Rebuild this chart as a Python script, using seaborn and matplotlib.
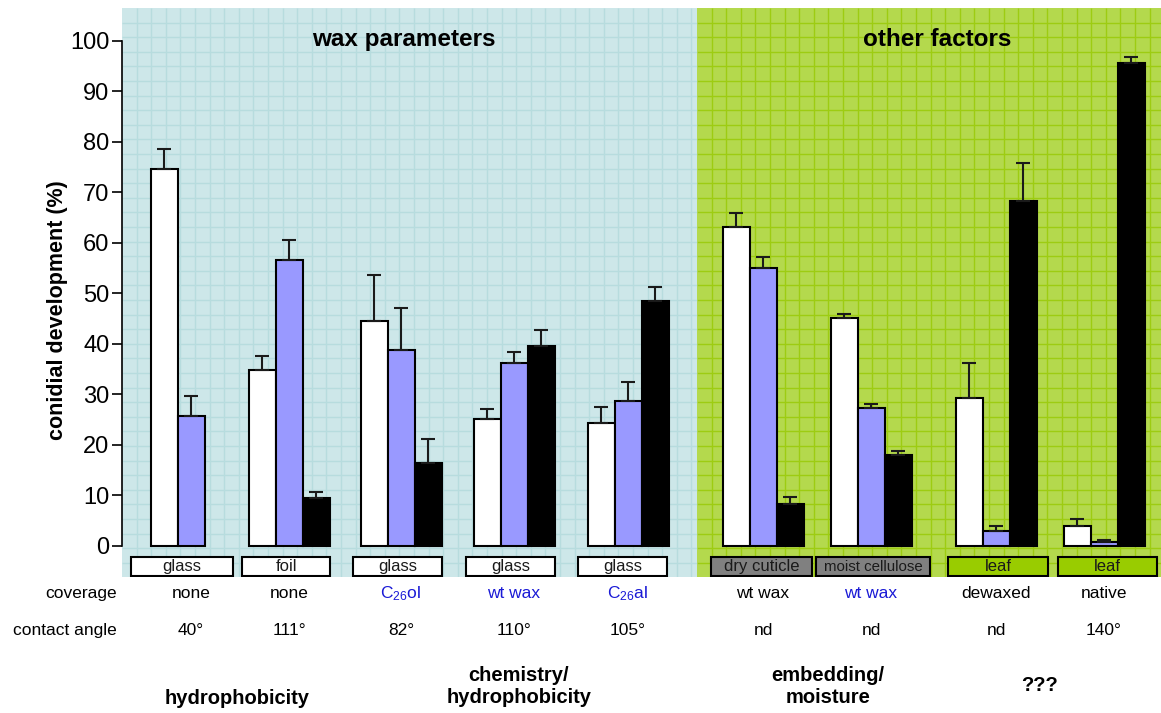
import numpy as np
import pandas as pd
import matplotlib
matplotlib.use("Agg")
import matplotlib.pyplot as plt
from matplotlib.patches import Rectangle
import seaborn as sns

# ---------------- data ----------------
series = ["series A", "series B", "series C"]
substrates = ["glass", "foil", "glass", "glass", "glass",
              "dry cuticle", "moist cellulose", "leaf", "leaf"]
coverage = ["none", "none", "C$_{26}$ol", "wt wax", "C$_{26}$al",
            "wt wax", "wt wax", "dewaxed", "native"]
coverage_wax_applied = [False, False, True, True, True, False, True, False, False]
contact_angle = ["40°", "111°", "82°", "110°", "105°", "nd", "nd", "nd", "140°"]

mean_a = [74.6, 34.9, 44.6, 25.1, 24.4, 63.1, 45.1, 29.3, 4.0]
err_a = [4.0, 2.7, 9.0, 2.0, 3.2, 2.8, 0.9, 6.9, 1.3]
mean_b = [25.8, 56.7, 38.9, 36.3, 28.7, 55.0, 27.3, 3.0, 0.85]
err_b = [3.9, 3.8, 8.3, 2.1, 3.8, 2.3, 0.8, 1.0, 0.25]
mean_c = [np.nan, 9.6, 16.4, 39.7, 48.6, 8.3, 18.0, 68.4, 95.7]
err_c = [np.nan, 1.0, 4.7, 3.1, 2.6, 1.4, 0.8, 7.4, 1.2]

panel_titles = ["wax parameters", "other factors"]
factor_labels = ["hydrophobicity", "chemistry/\nhydrophobicity",
                 "embedding/\nmoisture", "???"]

# ---------------- layout (x in pixel-like units) ----------------
group_x = [191, 289, 401, 514, 628, 763, 871, 996, 1104]
box_edges = [(131, 233), (242, 330), (353, 442), (466, 555), (578, 667),
             (711, 812), (816, 930), (948, 1048), (1058, 1157)]
box_fill = ["#ffffff"] * 5 + ["#808080"] * 2 + ["#99cc00"] * 2
box_fontsize = [12, 12, 12, 12, 12, 12, 10.8, 12, 12]
factor_x = [237, 519, 828, 1040]
factor_y = [-30.1, -27.8, -27.8, -27.7]
title_x = [404, 937]
panel_split = 697
x_left, x_right = 122, 1161
px_per_unit = 5.05
y_bottom, y_top = -6.14, 106.53

bar_colors = ["#ffffff", "#9999ff", "#000000"]

sns.set_theme(style="white")
plt.rcParams["font.family"] = ["Liberation Sans", "DejaVu Sans"]
plt.rcParams["mathtext.default"] = "regular"
plt.rcParams["text.color"] = "black"
plt.rcParams["ytick.color"] = "black"
plt.rcParams["ytick.labelcolor"] = "black"

rows = []
means = [mean_a, mean_b, mean_c]
errs = [err_a, err_b, err_c]
for s, m_list, e_list in zip(series, means, errs):
    for gx, m, e in zip(group_x, m_list, e_list):
        if not np.isnan(m):
            rows.append({"x": gx, "value": m, "err": e, "series": s})
df = pd.DataFrame(rows)

fig = plt.figure(figsize=(11.61, 7.13), dpi=100)
ax = fig.add_axes([x_left / 1161, 136 / 713, (x_right - x_left) / 1161, 569 / 713])

# panel backgrounds with a fine grid
panels = [(x_left, panel_split, "#cde7e9", "#b7dcde"),
          (panel_split, x_right, "#b4d94d", "#9dcc12")]
cell_x = 14.6
cell_y = 14.6 / px_per_unit
for x0, x1, face, line in panels:
    ax.axvspan(x0, x1, ymin=0, ymax=1, color=face, lw=0, zorder=0.1)
    xs = np.arange(x0 + cell_x, x1, cell_x)
    ax.vlines(xs, y_bottom, y_top, colors=line, lw=1.0, zorder=0.3)
    ys = np.arange(y_top - cell_y, y_bottom, -cell_y)
    ax.hlines(ys, x0, x1, colors=line, lw=1.0, zorder=0.3)

sns.barplot(data=df, x="x", y="value", hue="series", hue_order=series,
            palette=bar_colors, saturation=1, native_scale=True,
            width=81 / 98, errorbar=None, edgecolor="black", linewidth=1.5,
            legend=False, ax=ax, zorder=2)

# upper error bars
for s, cont in zip(series, ax.containers):
    sub = df[df["series"] == s].sort_values("x")
    for bar, e in zip(cont, sub["err"]):
        xc = bar.get_x() + bar.get_width() / 2
        h = bar.get_height()
        ax.errorbar([xc], [h], yerr=[[0], [e]], fmt="none", ecolor="#1a1a1a",
                    elinewidth=1.5, capsize=4.7, capthick=1.5, zorder=3)

# substrate label boxes
b_lo, b_hi = (546 - 576) / px_per_unit, (546 - 557) / px_per_unit
for (l, r), fc, txt, fs in zip(box_edges, box_fill, substrates, box_fontsize):
    ax.add_patch(Rectangle((l, b_lo), r - l, b_hi - b_lo, facecolor=fc,
                           edgecolor="black", lw=1.5, zorder=4))
    ax.text((l + r) / 2, (b_lo + b_hi) / 2 - 0.1, txt, ha="center", va="center",
            fontsize=fs, color="#1a1a1a", zorder=5)

ax.set_xlim(x_left, x_right)
ax.set_ylim(y_bottom, y_top)
ax.set_xticks([])
ax.set_xlabel("")
ax.set_ylabel("")
ax.set_yticks(range(0, 101, 10))
ax.tick_params(axis="y", direction="out", length=7, width=1.2, pad=2,
               labelsize=17, color="black", labelcolor="black", left=True)
for side in ["top", "right", "bottom"]:
    ax.spines[side].set_visible(False)
ax.spines["left"].set_bounds(0, 100)
ax.spines["left"].set_color("black")
ax.spines["left"].set_linewidth(1.2)
ax.spines["left"].set_zorder(5)

for t, tx in zip(panel_titles, title_x):
    ax.text(tx, 100.2, t, ha="center", va="center", fontsize=17.5,
            fontweight="bold", color="black")

ax.text(57, 46.8, "conidial development (%)", rotation=90, ha="center",
        va="center", fontsize=15.5, fontweight="bold", clip_on=False)

# descriptor rows below the substrates
row_y_cov = (546 - 594) / px_per_unit
row_y_ang = (546 - 631) / px_per_unit
ax.text(117, row_y_cov, "coverage", ha="right", va="center", fontsize=12.5,
        clip_on=False)
ax.text(117, row_y_ang, "contact angle", ha="right", va="center", fontsize=12.5,
        clip_on=False)
for gx, cov, hl, ang in zip(group_x, coverage, coverage_wax_applied, contact_angle):
    ax.text(gx, row_y_cov, cov, ha="center", va="center", fontsize=12.5,
            color="#1a1ad6" if hl else "black", clip_on=False)
    ax.text(gx, row_y_ang, ang, ha="center", va="center", fontsize=12.5,
            clip_on=False)

for lab, fx, fy in zip(factor_labels, factor_x, factor_y):
    ax.text(fx, fy, lab, ha="center", va="center", fontsize=14.5,
            fontweight="bold", linespacing=1.15, clip_on=False)

fig.savefig("out.png", dpi=100)
